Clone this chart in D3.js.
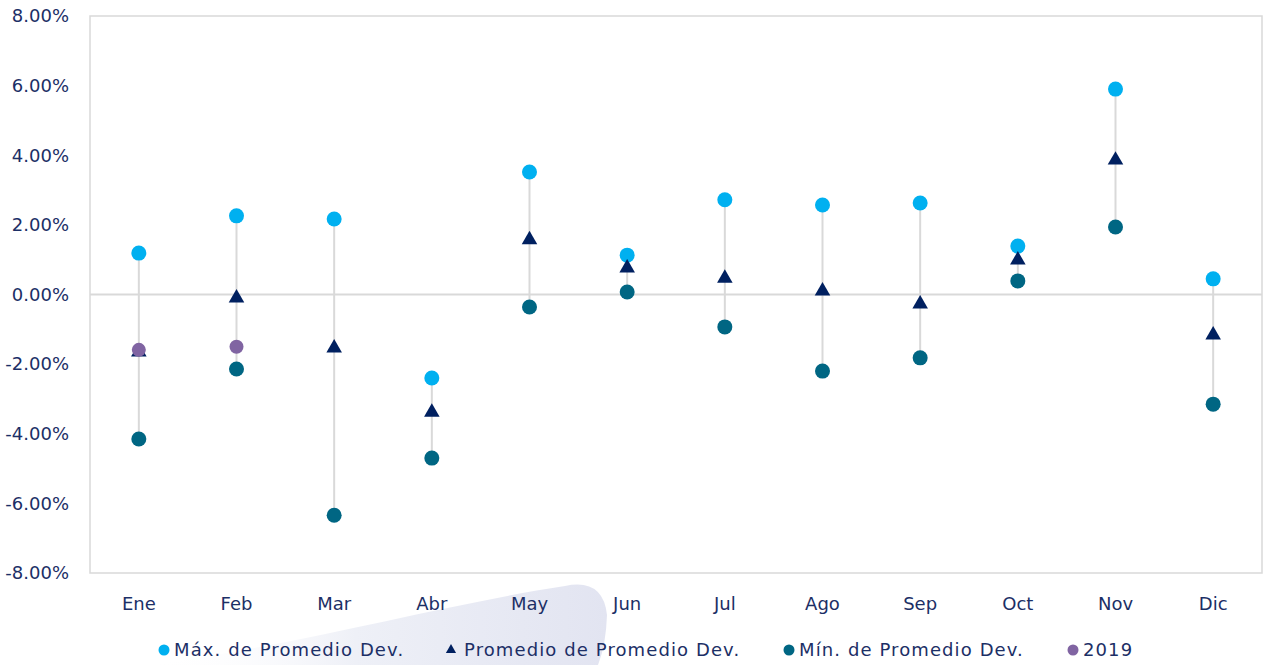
<!DOCTYPE html>
<html>
<head>
<meta charset="utf-8">
<script src="https://cdn.jsdelivr.net/npm/d3@7"></script>
<style>
  body { margin: 0; background: #fff; }
  text { font-family: "DejaVu Sans", sans-serif; fill: #1c2f66; }
</style>
</head>
<body>
<svg id="chart"></svg>
<script>
// months and series (values in %)
const months = ["Ene", "Feb", "Mar", "Abr", "May", "Jun", "Jul", "Ago", "Sep", "Oct", "Nov", "Dic"];
const maxVals = [1.19, 2.26, 2.17, -2.40, 3.52, 1.13, 2.72, 2.57, 2.63, 1.39, 5.90, 0.45];
const avgVals = [-1.65, -0.10, -1.54, -3.38, 1.57, 0.76, 0.47, 0.10, -0.27, 0.99, 3.86, -1.16];
const minVals = [-4.15, -2.14, -6.34, -4.70, -0.36, 0.07, -0.93, -2.20, -1.82, 0.39, 1.94, -3.15];
const vals2019 = [-1.59, -1.50];
const yTicks = [-8, -6, -4, -2, 0, 2, 4, 6, 8];

const colors = { max: "#00b0f0", avg: "#002060", min: "#006683", y2019: "#8064a2" };

const width = 1267, height = 665;
const margin = { top: 16, right: 5, bottom: 92, left: 90 };

const svg = d3.select("#chart").attr("width", width).attr("height", height);

const x = d3.scaleBand().domain(months).range([margin.left, width - margin.right]);
const y = d3.scaleLinear().domain([-8, 8]).range([height - margin.bottom, margin.top]);

// faint background swoosh near the bottom
const defs = svg.append("defs");
const grad = defs.append("linearGradient").attr("id", "swoosh")
  .attr("x1", "0%").attr("x2", "100%").attr("y1", "0%").attr("y2", "0%");
grad.append("stop").attr("offset", "0%").attr("stop-color", "#ffffff").attr("stop-opacity", 0);
grad.append("stop").attr("offset", "45%").attr("stop-color", "#eef0f7");
grad.append("stop").attr("offset", "100%").attr("stop-color", "#e2e4f1");
svg.append("path")
  .attr("d", "M150,665 C300,645 440,605 565,586 Q603,578 607,615 Q606,645 598,665 Z")
  .attr("fill", "url(#swoosh)");

// plot area border
svg.append("rect")
  .attr("x", margin.left).attr("y", margin.top)
  .attr("width", width - margin.left - margin.right)
  .attr("height", height - margin.top - margin.bottom)
  .attr("fill", "none").attr("stroke", "#d9d9d9").attr("stroke-width", 1.5);

// zero line
svg.append("line")
  .attr("x1", margin.left).attr("x2", width - margin.right)
  .attr("y1", y(0)).attr("y2", y(0))
  .attr("stroke", "#d9d9d9").attr("stroke-width", 2);

// y axis labels
svg.append("g").selectAll("text")
  .data(yTicks)
  .join("text")
    .attr("x", 69)
    .attr("y", d => y(d))
    .attr("dy", "0.35em")
    .attr("text-anchor", "end")
    .style("font-size", "18px")
    .text(d => d3.format(".2f")(d).replace("−", "-") + "%");

// x axis labels
svg.append("g").selectAll("text")
  .data(months)
  .join("text")
    .attr("x", d => x(d) + x.bandwidth() / 2)
    .attr("y", 610)
    .attr("text-anchor", "middle")
    .style("font-size", "18px")
    .text(d => d);

const cx = i => x(months[i]) + x.bandwidth() / 2;

// high-low lines
svg.append("g").selectAll("line")
  .data(months)
  .join("line")
    .attr("x1", (d, i) => cx(i)).attr("x2", (d, i) => cx(i))
    .attr("y1", (d, i) => y(maxVals[i]))
    .attr("y2", (d, i) => y(minVals[i]))
    .attr("stroke", "#d9d9d9").attr("stroke-width", 2);

const tri = d3.symbol().type(d3.symbolTriangle).size(105);

// min
svg.append("g").selectAll("circle")
  .data(minVals)
  .join("circle")
    .attr("cx", (d, i) => cx(i)).attr("cy", d => y(d))
    .attr("r", 7.5).attr("fill", colors.min);

// max
svg.append("g").selectAll("circle")
  .data(maxVals)
  .join("circle")
    .attr("cx", (d, i) => cx(i)).attr("cy", d => y(d))
    .attr("r", 7.5).attr("fill", colors.max);

// average triangles
svg.append("g").selectAll("path")
  .data(avgVals)
  .join("path")
    .attr("d", tri)
    .attr("transform", (d, i) => `translate(${cx(i)},${y(d)})`)
    .attr("fill", colors.avg);

// 2019
svg.append("g").selectAll("circle")
  .data(vals2019)
  .join("circle")
    .attr("cx", (d, i) => cx(i)).attr("cy", d => y(d))
    .attr("r", 7).attr("fill", colors.y2019);

// legend
const legend = [
  { label: "Máx. de Promedio Dev.", color: colors.max, shape: "circle", x: 164 },
  { label: "Promedio de Promedio Dev.", color: colors.avg, shape: "tri", x: 451 },
  { label: "Mín. de Promedio Dev.", color: colors.min, shape: "circle", x: 789 },
  { label: "2019", color: colors.y2019, shape: "circle", x: 1073 }
];
const ly = 650;
const lg = svg.append("g").selectAll("g")
  .data(legend)
  .join("g")
    .attr("transform", d => `translate(${d.x},${ly})`);
lg.filter(d => d.shape === "circle").append("circle")
  .attr("r", 5.5).attr("fill", d => d.color);
lg.filter(d => d.shape === "tri").append("path")
  .attr("d", d3.symbol().type(d3.symbolTriangle).size(45))
  .attr("fill", d => d.color);
lg.append("text")
  .attr("x", d => d.shape === "tri" ? 13 : 10)
  .attr("dy", "0.35em")
  .style("font-size", "18px")
  .style("letter-spacing", "1.1px")
  .text(d => d.label);
</script>
</body>
</html>
